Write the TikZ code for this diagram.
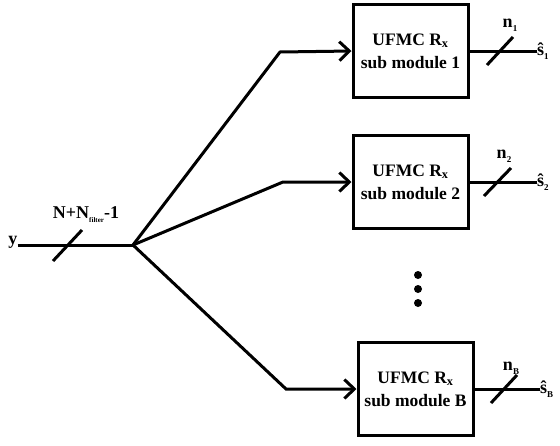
\documentclass[tikz,border=0pt]{standalone}
\usepackage{fontspec}
\setmainfont{Liberation Serif}
\usetikzlibrary{positioning,arrows.meta}
\tikzset {
    style box/.style={
        draw=black,
        line width=3pt,
        rectangle, % Set the shape as a rectangle
        minimum width=115pt,
        minimum height=93pt,
        align=center,
        font=\fontsize{17.5}{23}\selectfont\bfseries,
    },
    style line/.style={
        draw=black,
        line width=3pt,
    },
    style label/.style={
        inner sep=0pt,
        font=\fontsize{18}{20}\selectfont\bfseries,
    },
    style dot/.style={
        circle,
        fill=black,
        inner sep=0pt,
        minimum width=8pt,
        minimum height=7pt,
    },
}

\begin{document}
\begin{tikzpicture}
[x=1pt, y=-1pt, >={Straight Barb[length=10pt,width=19pt]}]
\useasboundingbox (0,0) rectangle (560,445);

\node[style box] at (410.5,51) (box1) {UFMC R\textsubscript{x}\\sub module 1};
\node[style box] at (410.5,182) (box2) {UFMC R\textsubscript{x}\\sub module 2};
\node[style box] at (415.5,389) (boxB) {UFMC R\textsubscript{x}\\sub module B};

\node[style label] at (13,242) (y) {y};
\coordinate (split) at (133,245);
\coordinate (knee1) at (280,52);
\coordinate (knee2) at (283,182);
\coordinate (kneeB) at (286,389);

\node[style dot] at (418,275) (dot1) {};
\node[style dot] at (418,289) (dot2) {};
\node[style dot] at (418,303) (dot3) {};

% input
\draw[style line] (y.east |- split) -- (split);
\draw[style line] (53,261) -- (82,230);
\node[style label] at (86,215) (nlen) {N+N\raisebox{-4pt}{\fontsize{7}{8}\selectfont filter}-1};

% branches
\draw[style line, ->] (split) -- (knee1) -- (box1.west);
\draw[style line, ->] (split) -- (knee2) -- (box2.west);
\draw[style line, ->] (split) -- (kneeB) -- (boxB.west);

% outputs
\coordinate (out1) at (537,51);
\coordinate (out2) at (537,182);
\coordinate (outB) at (540,389);
\draw[style line] (box1.east) -- (out1);
\draw[style line] (box2.east) -- (out2);
\draw[style line] (boxB.east) -- (outB);
\draw[style line] (487,65) -- (513,37);
\draw[style line] (484,196) -- (511,168);
\draw[style line] (491,403) -- (517,375);
\node[style label] at (510,25) (n1) {n\raisebox{-4pt}{\fontsize{9}{10}\selectfont 1}};
\node[style label] at (504,156) (n2) {n\raisebox{-4pt}{\fontsize{9}{10}\selectfont 2}};
\node[style label] at (511,368) (nB) {n\raisebox{-4pt}{\fontsize{9}{10}\selectfont B}};
\node[style label, anchor=west] at (out1) (s1) {\^{s}\raisebox{-4pt}{\fontsize{9}{10}\selectfont 1}};
\node[style label, anchor=west] at (out2) (s2) {\^{s}\raisebox{-4pt}{\fontsize{9}{10}\selectfont 2}};
\node[style label, anchor=west] at (outB) (sB) {\^{s}\raisebox{-4pt}{\fontsize{9}{10}\selectfont B}};
\end{tikzpicture}
\end{document}
